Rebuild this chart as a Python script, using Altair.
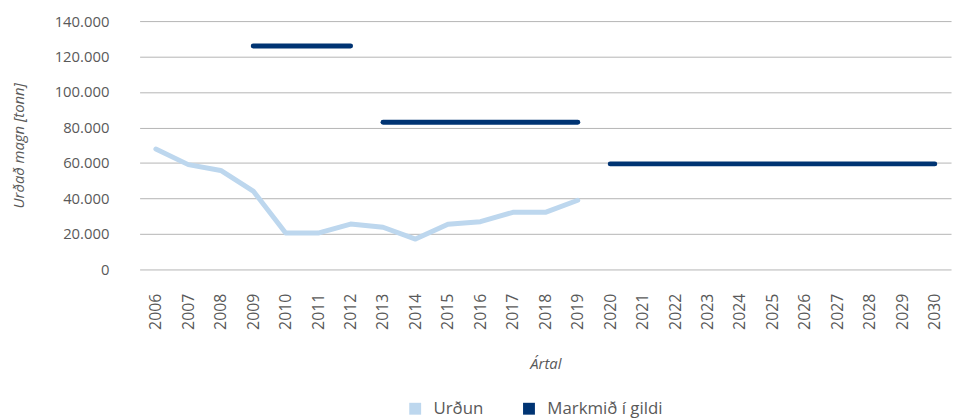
import altair as alt
import pandas as pd

years = [str(y) for y in range(2006, 2031)]
urdun_years = [str(y) for y in range(2006, 2020)]
urdun_values = [67900, 59100, 55800, 44200, 20500, 20500, 25600, 23800, 17100,
                25500, 26900, 32200, 32200, 39000]

target_starts = ["2009", "2013", "2020"]
target_ends = ["2012", "2019", "2030"]
target_values = [126000, 83000, 59500]

series_names = ["Urðun", "Markmið í gildi"]
series_colors = ["#BDD7EE", "#003473"]

urdun_df = pd.DataFrame({"year": urdun_years, "value": urdun_values, "series": series_names[0]})

rows = []
for i, (s, e, v) in enumerate(zip(target_starts, target_ends, target_values)):
    rows.append({"year": s, "value": v, "seg": i, "series": series_names[1]})
    rows.append({"year": e, "value": v, "seg": i, "series": series_names[1]})
target_df = pd.DataFrame(rows)

font = "Open Sans"
txt = "#595959"

x_enc = alt.X("year:O", scale=alt.Scale(domain=years, paddingInner=0, paddingOuter=0),
              axis=alt.Axis(title="Ártal", labelAngle=270, labelAlign="right", labelBaseline="middle",
                            ticks=False, domain=False, labelPadding=24, titlePadding=27,
                            titleFontStyle="italic", titleFontWeight="normal", titleFontSize=15,
                            labelFontSize=16, labelColor=txt, titleColor=txt,
                            labelFont=font, titleFont=font, grid=False))
y_enc = alt.Y("value:Q", scale=alt.Scale(domain=[0, 140000], nice=False),
              axis=alt.Axis(title="Urðað magn [tonn]", values=list(range(0, 140001, 20000)),
                            labelExpr="replace(format(datum.value, ','), ',', '.')",
                            ticks=False, domain=False, labelPadding=31, titlePadding=28,
                            titleFontStyle="italic", titleFontWeight="normal", titleFontSize=15,
                            labelFontSize=15, labelColor=txt, titleColor=txt,
                            labelFont=font, titleFont=font, gridColor="#B4B4B4", gridWidth=1))

color_enc = alt.Color("series:N", scale=alt.Scale(domain=series_names, range=series_colors),
                      legend=alt.Legend(title=None, orient="none", direction="horizontal",
                                        legendX=270, legendY=383,
                                        symbolType="square", symbolSize=36, symbolStrokeWidth=6,
                                        labelFontSize=17, labelFont=font, labelColor=txt,
                                        columnPadding=30, labelOffset=10))

urdun = alt.Chart(urdun_df).mark_line(strokeWidth=5, strokeJoin="round", strokeCap="round").encode(
    x=x_enc, y=y_enc, color=color_enc)

target = alt.Chart(target_df).mark_line(strokeWidth=5, strokeCap="round").encode(
    x=x_enc, y=y_enc, color=color_enc, detail="seg:N")

chart = alt.layer(urdun, target).properties(
    width=820, height=251, padding={"left": 3, "top": 4, "right": 2, "bottom": 2}
).configure_view(stroke=None)

chart.save("out.html", embed_options={"renderer": "svg", "actions": False})
